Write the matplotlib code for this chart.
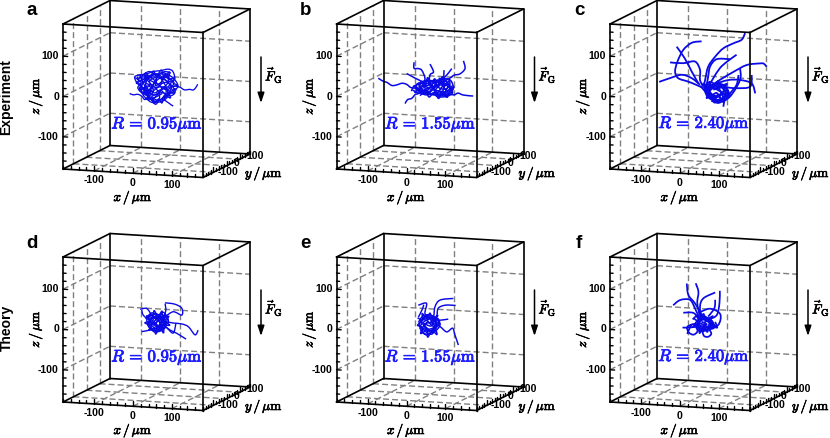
import matplotlib
matplotlib.use("Agg")
import matplotlib.pyplot as plt
import matplotlib.patheffects as pe
from matplotlib.path import Path
from matplotlib.patches import PathPatch
import numpy as np

W, H = 830, 438
LIM = 180
GRID = [-100, 0, 100]
TICKS = list(range(-180, 181, 20))
TICK_LABELS = {-100: "-100", 0: "0", 100: "100"}
Y_LABEL_OFFSETS = {-100: (4, -0.2), 0: (7.5, -3.0), 100: (6.5, -3.2)}

panel_letters = ["a", "b", "c", "d", "e", "f"]
radii = ["0.95", "1.55", "2.40", "0.95", "1.55", "2.40"]
row_titles = ["Experiment", "Theory"]
line_widths = [0.95, 1.1, 1.3, 1.0, 1.05, 1.25]

# trajectories: (x, z) in micrometres
a_paths = [
 [(-69,-15),(-60,-18),(-48,-16),(-38,-20),(-30,-28),(-22,-18),(-28,-5),(-42,5),(-52,15),(-56,27),(-45,32),(-25,36),(-9,43),(10,46),(30,51),(42,46),(47,28),(35,20),(15,26),(-5,30),(-22,24),(-35,12),(-40,-5),(-30,-22),(-12,-34),(5,-30),(18,-18),(25,-5),(20,8)],
 [(30,5),(45,10),(60,8),(72,2),(85,4),(94,3),(100,8),(106,18)],
 [(-50,20),(-35,28),(-15,20),(5,12),(25,18),(40,10),(48,-5),(35,-15),(15,-8),(-5,-15),(-22,-8),(-38,5),(-30,20),(-10,35),(15,38),(35,35),(50,22),(55,8),(40,-2),(20,-22),(30,-32),(43,-40)],
 [(-45,10),(-30,-8),(-15,-25),(-2,-38),(8,-20),(0,0),(-15,12),(-30,30),(-10,25),(8,8),(28,0),(45,18),(25,32),(5,25),(-12,5),(-25,-15),(-8,-30),(12,-25),(28,-8),(20,15),(-2,38),(-20,30),(-40,18)],
 [(-55,25),(-40,15),(-48,0),(-35,-12),(-20,-2),(-5,-10),(10,-2),(25,-12),(38,5),(25,22),(5,35),(-15,30),(-28,10),(-15,-8),(5,5),(22,8),(32,28),(15,42),(-5,18),(-22,-25),(-5,-22),(15,-10)],
 [(-52,10),(-38,22),(-42,32),(-22,30),(-30,15),(-18,8),(-32,-5),(-20,-18),(-8,-5),(-18,18),(0,28),(-3,8),(12,18),(22,30),(38,22),(30,8),(15,0),(2,-15),(-10,-28),(8,-32),(22,-25),(35,-10),(52,2)],
 [(-44,-8),(-25,6),(-8,2),(10,10),(18,30),(35,42),(20,44),(0,36),(-20,42),(-38,26),(-25,-2),(-10,-16),(6,-8),(18,6),(34,-5),(25,-18),(8,-28),(-14,-22),(-32,-14),(-45,2)],
 [(-50,28),(-46,18),(-52,12),(-40,8),(-44,-4),(-30,-2),(-34,-14),(-20,-12),(-24,-26),(-10,-20),(-6,-36),(6,-24),(14,-34),(20,-16),(36,-20),(30,-6),(46,-8),(38,6),(54,12),(42,18),(46,30),(30,26),(34,44),(18,34),(12,48),(0,32),(-8,44),(-16,28),(-28,38),(-32,22),(-46,28)],
]
b_paths = [
 [(-133,19),(-120,12),(-111,10),(-98,3),(-86,5),(-72,10),(-60,8),(-50,1),(-39,0),(-17,-1)],
 [(-64,-40),(-58,-30),(-47,-26),(-38,-16),(-30,-13),(-9,1)],
 [(-41,64),(-41,49),(-30,49),(-21,45),(-13,26),(-17,5)],
 [(0,62),(9,43),(0,35),(-4,10)],
 [(-60,35),(-39,25),(-21,17),(-9,6)],
 [(86,75),(90,56),(77,42),(62,38),(51,30),(26,15)],
 [(111,-11),(86,-10),(72,-6),(60,-11),(34,-5),(9,-2)],
 [(56,54),(43,37),(30,24),(17,7)],
 [(36,49),(34,29),(21,11)],
 [(-30,-8),(-20,8),(-5,14),(10,20),(30,26),(45,28),(55,22),(60,5),(50,-8),(30,-14),(10,-12),(-10,-15),(-25,-10),(-38,2),(-30,12),(-10,18),(15,22),(35,18),(50,8),(58,-6),(45,-15),(25,-18),(5,-12),(-15,-6)],
 [(-40,-12),(-25,0),(-12,-10),(2,5),(18,-8),(32,8),(48,15),(38,-5),(20,-12),(5,10),(-12,20),(-28,8),(-18,-12),(2,-4),(22,12),(40,22),(52,5),(35,-12)],
 [(-45,-5),(-28,-12),(-10,-4),(6,-14),(24,-6),(42,-14),(55,0),(42,12),(24,20),(8,14),(-8,8),(-24,14),(-36,6),(-22,-6),(-4,2),(14,8),(30,2),(46,6),(40,24),(22,28)],
 [(-35,8),(-18,14),(-2,22),(14,12),(0,-8),(-16,-14),(-30,-4),(-14,6),(4,0),(20,18),(36,10),(28,-10),(12,-6),(28,12),(44,-2),(58,12)],
 [(-48,-8),(-40,6),(-30,-6),(-22,18),(-14,2),(-6,28),(2,6),(12,26),(20,6),(32,32),(38,10),(50,24),(52,4),(62,8),(48,-6),(44,-18),(30,-10),(22,-22),(10,-8),(-2,-20),(-12,-8),(-26,-18)],
]
c_paths = [
 [(107,145),(98,128),(77,118),(51,104),(30,82),(12,56),(4,22),(0,7)],
 [(-5,118),(-30,113),(-52,94),(-67,64),(-73,39),(-65,23),(-39,16),(-18,9),(0,2)],
 [(-69,101),(-48,73),(-30,41),(-13,13)],
 [(-114,11),(-86,22),(-56,32),(-30,25),(-9,10)],
 [(-86,61),(-52,61),(-22,67),(-9,47),(-9,22),(0,6)],
 [(162,65),(155,72),(145,72),(111,66),(77,47),(42,25),(17,7)],
 [(85,90),(60,71),(42,54),(25,28),(12,6)],
 [(68,78),(34,76),(17,57),(12,31),(8,10)],
 [(94,57),(94,28),(68,-15),(42,-29),(17,-22)],
 [(124,42),(120,13),(85,7),(51,7),(25,0)],
 [(133,-3),(124,21),(94,28),(64,26),(34,16)],
 [(51,-41),(55,-24),(68,-7),(85,15),(90,40)],
 [(-5,12),(10,5),(30,12),(50,10),(62,-5),(50,-20),(30,-25),(12,-18),(5,-5),(20,5),(40,-2),(55,-12),(40,-25),(22,-20),(10,-8),(25,10),(45,15),(60,5),(65,-12),(48,-28)],
 [(0,15),(12,-2),(28,-15),(45,-8),(35,8),(18,18),(2,5),(15,-12),(35,-18),(52,0),(38,14),(22,2),(8,-15),(30,-28),(55,-20)],
 [(-8,8),(6,-8),(22,-22),(40,-14),(56,-6),(46,8),(28,4),(14,12),(4,-2),(18,-16),(34,-8),(50,-26),(62,-16),(40,-32),(20,-28)],
 [(5,10),(15,-6),(8,-22),(22,-14),(28,-32),(36,-14),(52,-30),(50,-10),(68,-10),(52,2),(60,16),(40,8),(38,22),(24,8),(14,20)],
]
d_paths = [
 [(107,-14),(99,-26),(82,-7),(65,-1),(43,0),(26,2)],
 [(76,-38),(52,-25),(35,-18),(18,-7)],
 [(-38,-26),(-17,-21),(5,-12)],
 [(22,49),(47,47),(65,38),(65,21),(43,28),(22,14)],
 [(22,47),(24,30),(18,12)],
 [(-42,29),(-25,32),(-12,16),(0,5)],
 [(-38,28),(-34,15),(-17,2)],
 [(50,0),(43,-25),(26,-12)],
 [(-25,10),(-12,22),(5,18),(18,25),(28,10),(20,-5),(5,-18),(-10,-22),(-22,-8),(-12,8),(2,15),(15,5),(25,-8),(12,-20),(-5,-15),(-18,-2),(-8,12),(8,8),(18,-2),(5,-12),(-10,-5),(0,5),(12,0)],
 [(-20,0),(-5,-5),(10,12),(25,18),(30,0),(10,-10),(-5,-25),(-15,-12),(-25,5),(-5,20),(12,14),(22,-2),(2,-8),(-12,-2),(-2,10),(14,-12),(0,-20)],
 [(-28,6),(-14,16),(0,8),(14,20),(22,6),(8,-4),(18,-16),(2,-24),(-14,-18),(-24,-4),(-8,2),(6,-14),(14,4),(0,12),(-16,8)],
 [(-18,-12),(-4,-2),(10,-18),(24,-4),(12,10),(-4,18),(-20,14),(-10,-6),(4,2),(20,10),(8,-10),(-8,-20)],
 [(-26,14),(-18,2),(-30,-4),(-14,-10),(-20,-22),(-6,-16),(-2,-30),(8,-14),(18,-26),(20,-8),(34,-6),(22,4),(32,16),(16,12),(14,28),(4,14),(-6,28),(-10,12),(-26,14)],
]
e_paths = [
 [(73,-53),(64,-28),(58,-12),(43,-22),(26,-10),(9,-3)],
 [(60,62),(26,56),(13,39),(9,13),(0,-3)],
 [(66,45),(39,44),(21,35),(17,14),(4,-3)],
 [(-30,40),(-9,46),(-13,21),(-4,5)],
 [(-30,10),(-20,30),(-16,42)],
 [(47,10),(26,6),(8,6)],
 [(-30,-3),(-20,12),(-5,18),(10,14),(22,2),(15,-15),(0,-28),(-15,-30),(-26,-15),(-15,0),(2,8),(16,-2),(8,-20),(-8,-33),(-20,-22),(-12,-5),(4,-2),(12,-12),(-2,-22),(-14,-12),(-4,3)],
 [(-22,5),(-8,15),(5,3),(20,10),(25,-8),(8,-25),(-10,-20),(-28,-8),(-12,10),(6,14),(14,-8),(-4,-18),(-16,-5),(2,-10),(10,2)],
 [(-26,-12),(-12,-24),(4,-30),(14,-16),(2,-6),(-10,4),(-24,2),(-10,-14),(6,-22),(18,-6),(10,10),(-6,10)],
 [(-32,8),(-20,2),(-32,-10),(-20,-14),(-24,-30),(-8,-22),(-6,-38),(6,-22),(18,-30),(14,-10),(26,-4),(14,4),(20,18),(6,8),(0,22),(-8,8),(-20,20),(-18,6)],
]
f_paths = [
 [(-43,93),(-39,65),(-22,45),(-5,17),(-5,1)],
 [(-20,95),(-13,74),(-16,46),(-9,13)],
 [(-78,37),(-60,51),(-35,53),(-22,33),(-9,5)],
 [(30,75),(0,59),(-9,38),(-5,5)],
 [(42,80),(41,49),(34,19),(12,6),(0,-3)],
 [(30,57),(28,36),(12,14)],
 [(-52,20),(-26,21),(-9,5)],
 [(-54,-17),(-30,-15),(-9,-7)],
 [(-42,-32),(-30,-8),(-18,-12),(-16,-25),(-26,-33),(-38,-28),(-42,-15),(-30,-8)],
 [(2,-20),(14,-18),(20,-28),(12,-36),(2,-35),(-2,-26),(2,-20)],
 [(-13,22),(17,34),(43,22),(38,-5),(12,-15)],
 [(-28,5),(-15,15),(5,10),(22,2),(28,-12),(10,-18),(-8,-15),(-22,-8),(-10,6),(8,4),(18,-8),(2,-12),(-12,-6),(-2,8),(14,10),(24,-3),(6,-20),(-12,-22),(-25,-5)],
 [(-5,0),(8,-5),(-6,-12),(-14,4),(4,14),(20,-5),(35,-12),(30,2)],
 [(-24,-12),(-8,-4),(6,-14),(-4,-20),(-16,-10),(-4,6),(12,2),(26,-8),(14,-14),(0,-6)],
 [(-26,8),(-14,-2),(-28,-14),(-12,-12),(-10,-28),(0,-14),(10,-24),(14,-6),(30,-8),(16,4),(24,16),(6,6),(0,20),(-10,6),(-20,16)],
]
all_paths = [a_paths, b_paths, c_paths, d_paths, e_paths, f_paths]

panel_dx = [0, 273.5, 547]
panel_dy = [0, 233]

# pixel layout of the oblique box, local to a panel
ORIGIN = np.array([156.5, 89.0])
XV = np.array([140, 8.5]) / 360
YV = np.array([47, -23.5]) / 360
ZV = np.array([0, -145]) / 360

def proj(x, y, z):
    p = ORIGIN[None, :] + np.outer(np.atleast_1d(x), XV) + np.outer(np.atleast_1d(y), YV) + np.outer(np.atleast_1d(z), ZV)
    return p[:, 0], p[:, 1]

def smooth_path(xs, ys):
    """Bezier curve through the read points (Catmull-Rom control handles)."""
    pts = np.column_stack([xs, ys])
    ext = np.vstack([pts[0], pts, pts[-1]])
    verts = [pts[0]]
    codes = [Path.MOVETO]
    for k in range(1, len(ext) - 2):
        c1 = ext[k] + (ext[k + 1] - ext[k - 1]) / 6
        c2 = ext[k + 1] - (ext[k + 2] - ext[k]) / 6
        verts += [c1, c2, ext[k + 1]]
        codes += [Path.CURVE4] * 3
    return Path(verts, codes)

plt.rcParams["font.family"] = ["Liberation Sans", "DejaVu Sans"]
plt.rcParams["mathtext.fontset"] = "cm"
fig = plt.figure(figsize=(W / 100, H / 100), dpi=100)

BLUE = "#0a0ae6"
TXTBLUE = "#1c1cff"
GRAY = "#808080"

def bold(c, w=0.45):
    return [pe.withStroke(linewidth=w, foreground=c)]

def seg(ax, p0, p1, **kw):
    xs, ys = proj([p0[0], p1[0]], [p0[1], p1[1]], [p0[2], p1[2]])
    ax.plot(xs, ys, solid_capstyle="round", clip_on=False, **kw)

for i, (letter, r, paths, lw) in enumerate(zip(panel_letters, radii, all_paths, line_widths)):
    ox = panel_dx[i % 3]
    oy = panel_dy[i // 3]
    ax = fig.add_axes([ox / W, 1 - (oy + 205) / H, 283 / W, 205 / H])
    ax.set_xlim(0, 283)
    ax.set_ylim(205, 0)
    ax.axis("off")
    L = LIM
    gkw = dict(color=GRAY, lw=1.0, dashes=(4.3, 2.2), zorder=1)
    for g in GRID:
        seg(ax, (g, L, -L), (g, L, L), **gkw)
        seg(ax, (-L, L, g), (L, L, g), **gkw)
        seg(ax, (-L, g, -L), (-L, g, L), **gkw)
        seg(ax, (-L, -L, g), (-L, L, g), **gkw)
        seg(ax, (g, -L, -L), (g, L, -L), **gkw)
        seg(ax, (-L, g, -L), (L, g, -L), **gkw)
    ekw = dict(color="black", lw=1.2, zorder=3)
    for y in (-L, L):
        for z in (-L, L):
            seg(ax, (-L, y, z), (L, y, z), **ekw)
    for x in (-L, L):
        for z in (-L, L):
            seg(ax, (x, -L, z), (x, L, z), **ekw)
    for x in (-L, L):
        for y in (-L, L):
            seg(ax, (x, y, -L), (x, y, L), **ekw)
    tkw = dict(color="black", lw=1.0, zorder=3)
    for t in TICKS:
        major = t in TICK_LABELS
        n = 12 if major else 8
        seg(ax, (-L, -L, t), (-L + n, -L, t), **tkw)
        seg(ax, (t, -L, -L), (t, -L, -L + n), **tkw)
        seg(ax, (L, t, -L), (L, t, -L + n), **tkw)
    for t, s in TICK_LABELS.items():
        kw = dict(fontsize=7.6, fontweight="bold", color="black")
        px, py = proj(t, -L, -L)
        ax.text(px[0], py[0] + 9.5, s, ha="center", va="center", **kw)
        px, py = proj(-L, -L, t)
        ax.text(px[0] - 4, py[0], s, ha="right", va="center", **kw)
        px, py = proj(L, t, -L)
        dx, dy = Y_LABEL_OFFSETS[t]
        ax.text(px[0] + dx, py[0] + dy, s, ha="left", va="center", **kw)
    for path in paths:
        arr = np.array(path, dtype=float)
        xs, ys = proj(arr[:, 0], 0, arr[:, 1])
        ax.add_patch(PathPatch(smooth_path(xs, ys), fc="none", ec=BLUE, lw=lw,
                               joinstyle="round", zorder=2, clip_on=False))
    ax.text(157, 123.5, rf"$R\,\mathbf{{=}}\,\mathbf{{{r}}}\mu\mathrm{{m}}$", color=TXTBLUE, fontsize=12,
            ha="center", va="center", path_effects=bold(TXTBLUE, 0.6))
    mt = dict(fontsize=9.6, color="black", ha="center", va="center", path_effects=bold("black"))
    ax.text(133, 197, r"$x\,/\,\mu\mathrm{m}$", **mt)
    ax.text(264, 173, r"$y\,/\,\mu\mathrm{m}$", **mt)
    ax.text(35, 96, r"$z\,/\,\mu\mathrm{m}$", rotation=90, **mt)
    ax.text(274, 75, r"$\vec{F}_{\mathrm{G}}$", **mt)
    ax.annotate("", xy=(261, 103), xytext=(261, 57), annotation_clip=False,
                arrowprops=dict(arrowstyle="-|>,head_width=0.2,head_length=0.6", color="black", lw=1.1,
                                shrinkA=0, shrinkB=0))
    ax.text(32, 10.5, letter, fontsize=13.5, fontweight="bold", ha="center", va="center")

fig.text(6.5 / W, 1 - 97 / H, row_titles[0], rotation=90, fontsize=10, fontweight="bold", ha="center", va="center")
fig.text(6.5 / W, 1 - 328 / H, row_titles[1], rotation=90, fontsize=10, fontweight="bold", ha="center", va="center")
fig.savefig("out.png", dpi=100)
